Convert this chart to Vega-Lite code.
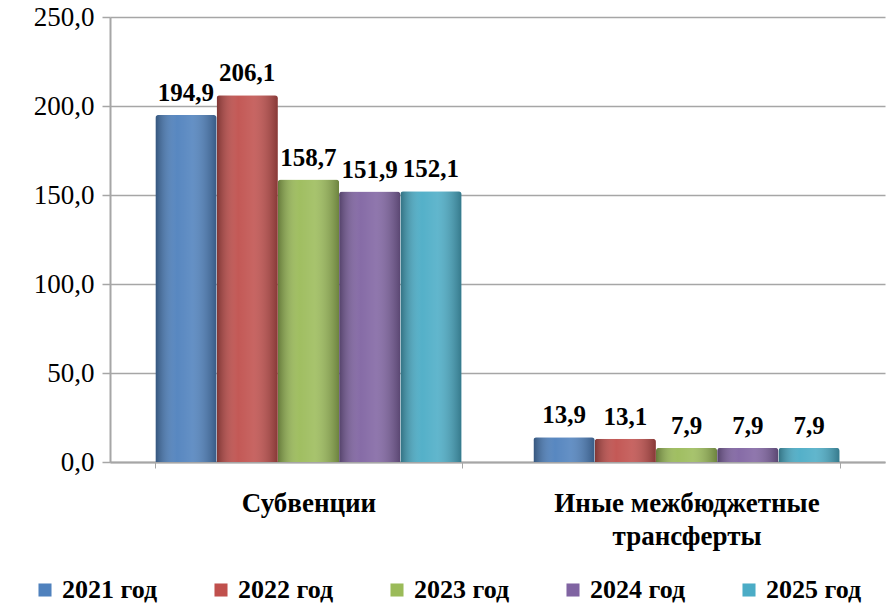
{
  "$schema": "https://vega.github.io/schema/vega-lite/v6.json",
  "width": 775,
  "height": 445,
  "autosize": {"type": "none"},
  "padding": {"left": 110, "right": 9, "top": 17, "bottom": 144},
  "background": "white",
  "config": {
    "locale": {"number": {"decimal": ",", "thousands": " ", "grouping": [3], "currency": ["", ""]}},
    "font": "Liberation Serif, DejaVu Serif, serif",
    "view": {"stroke": null}
  },
  "data": {
    "values": [
      {"cat": "Субвенции", "year": "2021 год", "v": 194.9},
      {"cat": "Субвенции", "year": "2022 год", "v": 206.1},
      {"cat": "Субвенции", "year": "2023 год", "v": 158.7},
      {"cat": "Субвенции", "year": "2024 год", "v": 151.9},
      {"cat": "Субвенции", "year": "2025 год", "v": 152.1},
      {"cat": "Иные межбюджетные трансферты", "year": "2021 год", "v": 13.9},
      {"cat": "Иные межбюджетные трансферты", "year": "2022 год", "v": 13.1},
      {"cat": "Иные межбюджетные трансферты", "year": "2023 год", "v": 7.9},
      {"cat": "Иные межбюджетные трансферты", "year": "2024 год", "v": 7.9},
      {"cat": "Иные межбюджетные трансферты", "year": "2025 год", "v": 7.9}
    ]
  },
  "encoding": {
    "x": {
      "field": "cat", "type": "nominal", "sort": null, "title": null,
      "scale": {"paddingInner": 0.19, "paddingOuter": 0.12},
      "axis": {
        "labelAngle": 0, "labelFont": "Liberation Serif, DejaVu Serif, serif", "labelFontSize": 27, "labelFontWeight": "bold",
        "labelColor": "black", "labelPadding": 22, "labelLineHeight": 33,
        "labelExpr": "datum.label == 'Иные межбюджетные трансферты' ? ['Иные межбюджетные', 'трансферты'] : datum.label",
        "domainColor": "#a6a6a6", "domainWidth": 2, "tickColor": "#a6a6a6", "ticks": true, "tickSize": 6,
        "tickBand": "extent", "labelLimit": 400
      }
    },
    "xOffset": {"field": "year", "type": "nominal", "sort": null},
    "y": {
      "field": "v", "type": "quantitative", "title": null,
      "scale": {"domain": [0, 250]},
      "axis": {
        "values": [0, 50, 100, 150, 200, 250], "format": ".1f",
        "labelFont": "Liberation Serif, DejaVu Serif, serif", "labelFontSize": 27, "labelColor": "black", "labelPadding": 8,
        "gridColor": "#a6a6a6", "gridWidth": 1.5, "domainColor": "#a6a6a6", "domainWidth": 2,
        "tickColor": "#a6a6a6", "tickSize": 8, "tickWidth": 1.5
      }
    }
  },
  "layer": [
    {
      "mark": {"type": "bar", "cornerRadiusTopLeft": 3, "cornerRadiusTopRight": 3},
      "encoding": {
        "color": {
          "field": "year", "type": "nominal", "sort": null, "title": null,
          "scale": {"range": ["#4F81BD", "#C0504D", "#9BBB59", "#8064A2", "#4BACC6"]},
          "legend": {
            "orient": "none", "legendX": -78, "legendY": 560, "direction": "horizontal", "columns": 5, "symbolType": "square",
            "symbolSize": 170, "symbolStrokeWidth": 0, "labelFont": "Liberation Serif, DejaVu Serif, serif", "labelFontSize": 26,
            "labelFontWeight": "bold", "labelColor": "black", "columnPadding": 50, "labelLimit": 300
          }
        }
      }
    },
    {
      "mark": {
        "type": "bar", "cornerRadiusTopLeft": 3, "cornerRadiusTopRight": 3,
        "fill": {"gradient": "linear", "x1": 0, "x2": 1, "y1": 0, "y2": 0,
          "stops": [
            {"offset": 0, "color": "rgba(0,0,0,0.35)"},
            {"offset": 0.35, "color": "rgba(255,255,255,0.05)"},
            {"offset": 0.6, "color": "rgba(255,255,255,0.12)"},
            {"offset": 1, "color": "rgba(0,0,0,0.3)"}
          ]}
      }
    },
    {
      "mark": {"type": "text", "dy": -22, "font": "Liberation Serif, DejaVu Serif, serif", "fontSize": 25, "fontWeight": "bold", "color": "black"},
      "encoding": {"text": {"field": "v", "type": "quantitative", "format": ".1f"}}
    }
  ]
}
